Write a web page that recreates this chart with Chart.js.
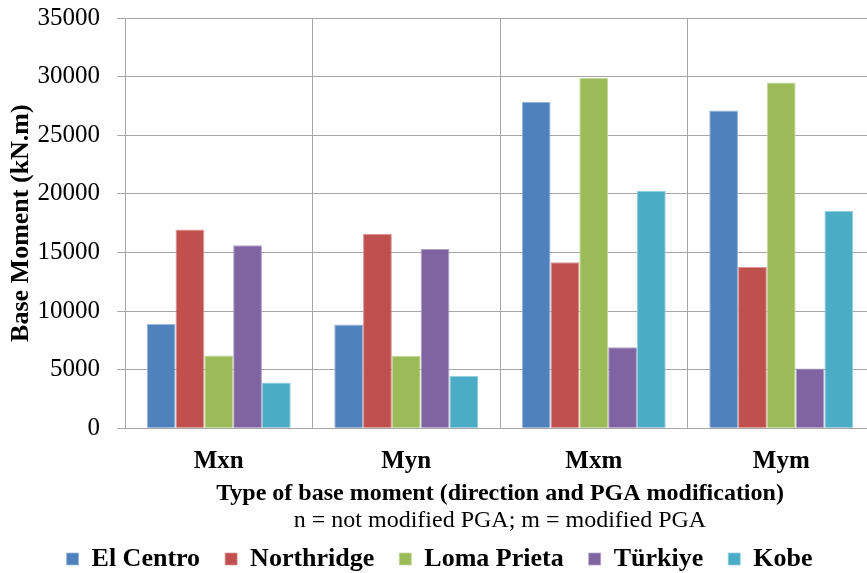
<!DOCTYPE html>
<html>
<head>
<meta charset="utf-8">
<script src="https://cdn.jsdelivr.net/npm/chart.js@4"></script>
<style>
  html, body { margin: 0; padding: 0; background: #fff; overflow: hidden; }
  #wrap { width: 892px; height: 573px; }
</style>
</head>
<body>
<div id="wrap"><canvas id="momentChart" width="892" height="573"></canvas></div>
<script>
const categories = ["Mxn", "Myn", "Mxm", "Mym"];
const elCentro   = [8900, 8850, 27850, 27100];
const northridge = [16950, 16600, 14150, 13750];
const lomaPrieta = [6200, 6170, 29900, 29500];
const turkiye    = [15620, 15300, 6900, 5100];
const kobe       = [3900, 4470, 20230, 18550];
const yTicks     = [0, 5000, 10000, 15000, 20000, 25000, 30000, 35000];

document.addEventListener("DOMContentLoaded", function () {
    const canvas = document.getElementById("momentChart");
    if (!canvas) return;
    const ctx = canvas.getContext("2d");

    const serif = "'Liberation Serif', 'Times New Roman', serif";

    new Chart(ctx, {
        type: "bar",
        data: {
            labels: categories,
            datasets: [
                { label: "El Centro",    data: elCentro,   backgroundColor: "#4F81BD", borderColor: "#9db7dc" },
                { label: "Northridge",   data: northridge, backgroundColor: "#C0504D", borderColor: "#d99694" },
                { label: "Loma Prieta",  data: lomaPrieta, backgroundColor: "#9BBB59", borderColor: "#c3d69b" },
                { label: "Türkiye",      data: turkiye,    backgroundColor: "#8064A2", borderColor: "#b3a2c7" },
                { label: "Kobe",         data: kobe,       backgroundColor: "#4BACC6", borderColor: "#93cddd" }
            ]
        },
        options: {
            responsive: false,
            animation: false,
            // canvas is wider than the window; the plot's right edge runs off the page like the original
            layout: { padding: { top: 18, right: 17, left: 4, bottom: -9 } },
            datasets: {
                bar: { categoryPercentage: 0.768, barPercentage: 1.0, borderWidth: { top: 1, left: 1, right: 1, bottom: 0 } }
            },
            scales: {
                x: {
                    afterFit: function (axis) {
                        axis.height = 80;
                        axis.paddingLeft = 0;
                        axis.paddingRight = 0;
                    },
                    grid: { color: "#a6a6a6", lineWidth: 1, drawTicks: false, offset: true },
                    border: { color: "#a6a6a6" },
                    ticks: {
                        color: "#000",
                        padding: 18,
                        font: { family: serif, size: 25, weight: "bold" }
                    },
                    title: {
                        display: true,
                        text: "Type of base moment (direction and PGA modification)",
                        color: "#000",
                        padding: { top: 0, bottom: 0 },
                        font: { family: serif, size: 24, weight: "bold" }
                    }
                },
                y: {
                    min: 0,
                    max: 35000,
                    afterBuildTicks: function (axis) {
                        axis.ticks = yTicks.map(v => ({ value: v }));
                    },
                    afterFit: function (axis) {
                        axis.width = 121;
                        axis.paddingTop = 0;
                        axis.paddingBottom = 0;
                    },
                    grid: { color: "#a6a6a6", lineWidth: 1, tickLength: 8 },
                    border: { color: "#a6a6a6" },
                    ticks: {
                        color: "#000",
                        padding: 17,
                        font: { family: serif, size: 25 },
                        callback: function (value) { return String(value); }
                    },
                    title: {
                        display: true,
                        text: "Base Moment (kN.m)",
                        color: "#000",
                        padding: { top: 2, bottom: 0 },
                        font: { family: serif, size: 26, weight: "bold" }
                    }
                }
            },
            plugins: {
                tooltip: { enabled: false },
                title: { display: false },
                subtitle: {
                    display: true,
                    position: "bottom",
                    fullSize: false,
                    weight: 500,
                    text: "n = not modified PGA; m = modified PGA",
                    color: "#000",
                    padding: { top: -2, bottom: -14 },
                    font: { family: serif, size: 24, weight: "normal" }
                },
                legend: {
                    position: "bottom",
                    labels: {
                        color: "#000",
                        boxWidth: 12,
                        boxHeight: 12,
                        padding: 25,
                        font: { family: serif, size: 26, weight: "bold" }
                    }
                }
            }
        }
    });
});
</script>
</body>
</html>
